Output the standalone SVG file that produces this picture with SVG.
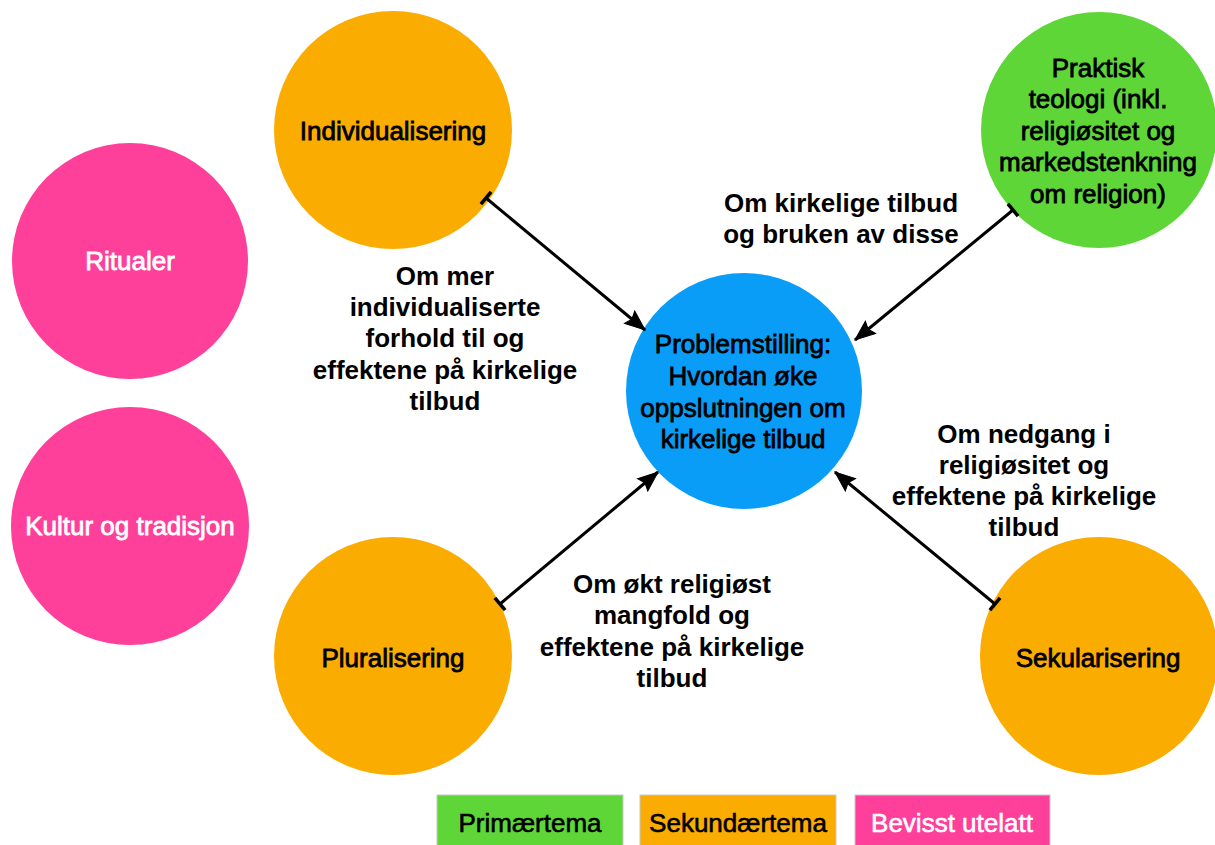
<svg xmlns="http://www.w3.org/2000/svg" width="1215" height="845" viewBox="0 0 1215 845">
<style>
.node text{font-family:"Liberation Sans",Arial,sans-serif;font-size:26px;text-anchor:middle;stroke-width:0.8px;paint-order:stroke}
.dark{fill:#000;stroke:#000}
.light{fill:#fff;stroke:#fff}
.lbl{font-family:"Liberation Sans",Arial,sans-serif;font-size:26px;font-weight:bold;text-anchor:middle;fill:#000}
.orange{fill:#FBAC00}
.green{fill:#5ED638}
.blue{fill:#0A9DF7}
.pink{fill:#FF409A}
.conn{stroke:#000;stroke-width:3;fill:none;marker-start:url(#tick);marker-end:url(#arrow)}
.leg{stroke:#c8c8c8;stroke-width:1}
.legt{font-family:"Liberation Sans",Arial,sans-serif;font-size:26px;text-anchor:middle;stroke-width:0.6px;paint-order:stroke}
</style>
<defs>
<marker id="arrow" markerUnits="userSpaceOnUse" markerWidth="24" markerHeight="20" refX="20" refY="8" orient="auto" overflow="visible">
<path d="M0,0 L20,8 L0,16 L3,8 Z" fill="#000" stroke="#000" stroke-width="1"/>
</marker>
<marker id="tick" markerUnits="userSpaceOnUse" markerWidth="6" markerHeight="18" refX="1" refY="8" orient="auto" overflow="visible">
<path d="M1,0 L1,16" stroke="#000" stroke-width="3.5" fill="none"/>
</marker>
</defs>
<rect width="1215" height="845" fill="#fff"/>

<g id="individualisering" class="node">
<circle class="orange" cx="393" cy="130" r="119"/>
<text class="dark" x="393" y="140">Individualisering</text>
</g>
<g id="ritualer" class="node">
<circle class="pink" cx="130" cy="261" r="118"/>
<text class="light" x="130" y="270">Ritualer</text>
</g>
<g id="kultur" class="node">
<circle class="pink" cx="130" cy="526" r="119"/>
<text class="light" x="130" y="535">Kultur og tradisjon</text>
</g>
<g id="pluralisering" class="node">
<circle class="orange" cx="393" cy="656" r="119"/>
<text class="dark" x="393" y="667">Pluralisering</text>
</g>
<g id="sekularisering" class="node">
<circle class="orange" cx="1099" cy="656" r="119"/>
<text class="dark" x="1098" y="667">Sekularisering</text>
</g>
<g id="praktisk" class="node">
<circle class="green" cx="1099" cy="130" r="118"/>
<text class="dark" x="1098" y="77">Praktisk</text>
<text class="dark" x="1098" y="108">teologi (inkl.</text>
<text class="dark" x="1098" y="140">religiøsitet og</text>
<text class="dark" x="1098" y="171">markedstenkning</text>
<text class="dark" x="1098" y="203">om religion)</text>
</g>
<g id="problemstilling" class="node">
<circle class="blue" cx="744" cy="391" r="118"/>
<text class="dark" x="743" y="353">Problemstilling:</text>
<text class="dark" x="743" y="385">Hvordan øke</text>
<text class="dark" x="743" y="417">oppslutningen om</text>
<text class="dark" x="743" y="448">kirkelige tilbud</text>
</g>

<g id="connectors">
<line class="conn" x1="486" y1="198" x2="645" y2="330"/>
<line class="conn" x1="1013" y1="210" x2="855" y2="340"/>
<line class="conn" x1="500" y1="604" x2="658" y2="472"/>
<line class="conn" x1="995" y1="604" x2="835" y2="472"/>
</g>

<g id="label-individualisering">
<text class="lbl" x="445" y="285">Om mer</text>
<text class="lbl" x="445" y="316">individualiserte</text>
<text class="lbl" x="445" y="347">forhold til og</text>
<text class="lbl" x="445" y="379">effektene på kirkelige</text>
<text class="lbl" x="445" y="410">tilbud</text>
</g>
<g id="label-praktisk">
<text class="lbl" x="841" y="212">Om kirkelige tilbud</text>
<text class="lbl" x="841" y="243">og bruken av disse</text>
</g>
<g id="label-sekularisering">
<text class="lbl" x="1024" y="443">Om nedgang i</text>
<text class="lbl" x="1024" y="474">religiøsitet og</text>
<text class="lbl" x="1024" y="505">effektene på kirkelige</text>
<text class="lbl" x="1024" y="536">tilbud</text>
</g>
<g id="label-pluralisering">
<text class="lbl" x="672" y="593">Om økt religiøst</text>
<text class="lbl" x="672" y="624">mangfold og</text>
<text class="lbl" x="672" y="656">effektene på kirkelige</text>
<text class="lbl" x="672" y="687">tilbud</text>
</g>

<g id="legend">
<g id="legend-primaer">
<rect class="green leg" x="437" y="795" width="186" height="55"/>
<text class="legt" x="530" y="832" fill="#000" stroke="#000">Primærtema</text>
</g>
<g id="legend-sekundaer">
<rect class="orange leg" x="640" y="795" width="196" height="55"/>
<text class="legt" x="738" y="832" fill="#000" stroke="#000">Sekundærtema</text>
</g>
<g id="legend-utelatt">
<rect class="pink leg" x="855" y="795" width="195" height="55"/>
<text class="legt" x="952" y="832" fill="#fff" stroke="#fff">Bevisst utelatt</text>
</g>
</g>
</svg>
